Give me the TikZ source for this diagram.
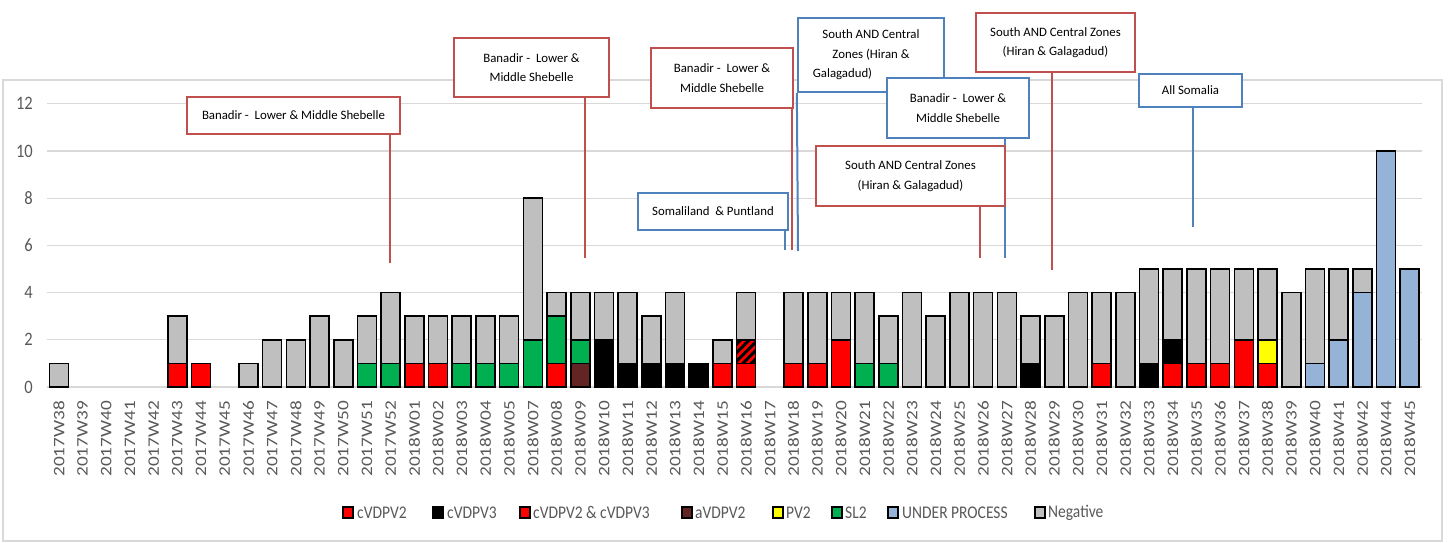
\documentclass[tikz,border=0pt]{standalone}
\usepackage{fontspec}
\setmainfont{Carlito}
\usepackage{graphicx}
\definecolor{cvtwo}{HTML}{FF0000}
\definecolor{cvthree}{HTML}{000000}
\definecolor{avtwo}{HTML}{632523}
\definecolor{pvtwo}{HTML}{FFFF00}
\definecolor{sltwo}{HTML}{00B050}
\definecolor{under}{HTML}{95B3D7}
\definecolor{neg}{HTML}{BFBFBF}
\definecolor{gridc}{HTML}{D9D9D9}
\definecolor{labc}{HTML}{595959}
\definecolor{annred}{HTML}{C0504D}
\definecolor{annblue}{HTML}{4F81BD}
\newcommand\barseg[4]{\filldraw[barline,fill=#4] ({58.85+23.7*#1-9.5},{387-23.6*#2}) rectangle ({58.85+23.7*#1+9.5},{387-23.6*#3});}
\begin{document}
\begin{tikzpicture}[x=1pt,y=-1pt,
  barline/.style={draw=black,line width=1.6pt},
  gridl/.style={draw=gridc,line width=1.3pt},
  ylab/.style={anchor=east,inner sep=0pt,text=labc,font=\fontsize{16.5}{18}\selectfont},
  xlab/.style={anchor=east,rotate=90,inner sep=0pt,text=labc,font=\fontsize{16}{18}\selectfont},
  annbox/.style={fill=white,line width=2.3pt,align=center,inner sep=1pt,text=black,font=\fontsize{12.8}{19.5}\selectfont},
  redbox/.style={annbox,draw=annred},
  bluebox/.style={annbox,draw=annblue},
  redline/.style={draw=annred,line width=2pt},
  blueline/.style={draw=annblue,line width=2pt},
  legsq/.style={draw=black,line width=1.4pt,minimum width=10pt,minimum height=11pt,inner sep=0pt},
  legtext/.style={anchor=west,inner sep=0pt,text=labc,font=\fontsize{15.5}{17}\selectfont}]
\useasboundingbox (0,0) rectangle (1448,543);
\fill[white] (0,0) rectangle (1448,543);
% chart frame
\draw[draw=gridc,line width=1.2pt] (3,80) rectangle (1442,541);
% grid
\foreach \v in {0,2,...,12} {
  \draw[gridl] (47,{387-23.6*\v}) -- (1422,{387-23.6*\v});
  \node[ylab] (y\v) at (33,{387-23.6*\v}) {\scalebox{1}[1.15]{\v}};
}
% bars
\foreach \i/\a/\b/\c in {
 0/0/1/neg, 5/0/1/cvtwo, 5/1/3/neg, 6/0/1/cvtwo, 8/0/1/neg, 9/0/2/neg, 10/0/2/neg,
 11/0/3/neg, 12/0/2/neg, 13/0/1/sltwo, 13/1/3/neg, 14/0/1/sltwo, 14/1/4/neg,
 15/0/1/cvtwo, 15/1/3/neg, 16/0/1/cvtwo, 16/1/3/neg, 17/0/1/sltwo, 17/1/3/neg,
 18/0/1/sltwo, 18/1/3/neg, 19/0/1/sltwo, 19/1/3/neg, 20/0/2/sltwo, 20/2/8/neg,
 21/0/1/cvtwo, 21/1/3/sltwo, 21/3/4/neg, 22/0/1/avtwo, 22/1/2/sltwo, 22/2/4/neg,
 23/0/2/cvthree, 23/2/4/neg, 24/0/1/cvthree, 24/1/4/neg, 25/0/1/cvthree, 25/1/3/neg,
 26/0/1/cvthree, 26/1/4/neg, 27/0/1/cvthree, 28/0/1/cvtwo, 28/1/2/neg,
 29/0/1/cvtwo, 29/2/4/neg,
 31/0/1/cvtwo, 31/1/4/neg, 32/0/1/cvtwo, 32/1/4/neg, 33/0/2/cvtwo, 33/2/4/neg,
 34/0/1/sltwo, 34/1/4/neg, 35/0/1/sltwo, 35/1/3/neg, 36/0/4/neg, 37/0/3/neg,
 38/0/4/neg, 39/0/4/neg, 40/0/4/neg, 41/0/1/cvthree, 41/1/3/neg, 42/0/3/neg,
 43/0/4/neg, 44/0/1/cvtwo, 44/1/4/neg, 45/0/4/neg, 46/0/1/cvthree, 46/1/5/neg,
 47/0/1/cvtwo, 47/1/2/cvthree, 47/2/5/neg, 48/0/1/cvtwo, 48/1/5/neg,
 49/0/1/cvtwo, 49/1/5/neg, 50/0/2/cvtwo, 50/2/5/neg, 51/0/1/cvtwo, 51/1/2/pvtwo,
 51/2/5/neg, 52/0/4/neg, 53/0/1/under, 53/1/5/neg, 54/0/2/under, 54/2/5/neg,
 55/0/4/under, 55/4/5/neg, 56/0/10/under, 57/0/5/under}
 {\barseg{\i}{\a}{\b}{\c}}
% hatched segment (cVDPV2 & cVDPV3) on 2018W16
\begin{scope}
  \clip (736.65,363.4) rectangle (755.65,339.8);
  \fill[cvtwo] (736.65,363.4) rectangle (755.65,339.8);
  \foreach \k in {-3,...,3}
    \draw[black,line width=3pt] ({746.15+\k*8.5-15},{351.6+15}) -- ({746.15+\k*8.5+15},{351.6-15});
\end{scope}
\draw[barline] (736.65,363.4) rectangle (755.65,339.8);
% x labels
\foreach \t [count=\n from 0] in {2017W38,2017W39,2017W40,2017W41,2017W42,2017W43,2017W44,2017W45,2017W46,2017W47,2017W48,2017W49,2017W50,2017W51,2017W52,2018W01,2018W02,2018W03,2018W04,2018W05,2018W07,2018W08,2018W09,2018W10,2018W11,2018W12,2018W13,2018W14,2018W15,2018W16,2018W17,2018W18,2018W19,2018W20,2018W21,2018W22,2018W23,2018W24,2018W25,2018W26,2018W27,2018W28,2018W29,2018W30,2018W31,2018W32,2018W33,2018W34,2018W35,2018W36,2018W37,2018W38,2018W39,2018W40,2018W41,2018W42,2018W44,2018W45}
  \node[xlab] (x\n) at ({58.85+23.7*\n},401) {\scalebox{1.2}[1]{\t}};
% annotation connector end points
\coordinate (e1) at (390,263);
\coordinate (e2) at (585,258);
\coordinate (e3) at (792,250);
\coordinate (e4) at (785,250);
\coordinate (e5) at (798,251);
\coordinate (e6) at (1005,258);
\coordinate (e7) at (980,258);
\coordinate (e8) at (1052,270);
\coordinate (e9) at (1193,227);
% invisible placement of annotation boxes, used by the connectors
\path (293.5,115.5) node[redbox,draw=none,fill=none,text opacity=0,minimum width=213pt,minimum height=37pt] (b1) {};
\path (531.5,67.5) node[redbox,draw=none,fill=none,minimum width=155pt,minimum height=59pt] (b2) {};
\path (722,78) node[redbox,draw=none,fill=none,minimum width=142pt,minimum height=60pt] (b3) {};
\path (713,211.5) node[bluebox,draw=none,fill=none,minimum width=150pt,minimum height=37pt] (b4) {};
\path (871,55) node[bluebox,draw=none,fill=none,minimum width=146pt,minimum height=74pt] (b5) {};
\path (958,108) node[bluebox,draw=none,fill=none,minimum width=142pt,minimum height=60pt] (b6) {};
\path (910.5,176) node[redbox,draw=none,fill=none,minimum width=189pt,minimum height=60pt] (b7) {};
\path (1055.5,42.5) node[redbox,draw=none,fill=none,minimum width=159pt,minimum height=59pt] (b8) {};
\path (1190.5,90.5) node[bluebox,draw=none,fill=none,minimum width=103pt,minimum height=33pt] (b9) {};
% connectors
\draw[redline] (b1.south -| e1) -- (e1);
\draw[redline] (b2.south -| e2) -- (e2);
\draw[redline] (b3.south -| e3) -- (e3);
\draw[blueline] (b4.south -| e4) -- (e4);
\draw[blueline] (b5.south west) -- (e5);
\draw[blueline] (b6.south -| e6) -- (e6);
\draw[redline] (b7.south -| e7) -- (e7);
\draw[redline] (b8.south -| e8) -- (e8);
\draw[blueline] (b9.south -| e9) -- (e9);
% annotation boxes on top, in stacking order
\path (293.5,115.5) node[redbox,minimum width=213pt,minimum height=37pt] (c1) {Banadir -\ \ Lower \& Middle Shebelle};
\path (531.5,67.5) node[redbox,minimum width=155pt,minimum height=59pt] (c2) {Banadir -\ \ Lower \&\\Middle Shebelle};
\path (722,78) node[redbox,minimum width=142pt,minimum height=60pt] (c3) {Banadir -\ \ Lower \&\\Middle Shebelle};
\path (713,211.5) node[bluebox,minimum width=150pt,minimum height=37pt] (c4) {Somaliland\ \ \& Puntland};
\path (871,55) node[bluebox,minimum width=146pt,minimum height=74pt] (c5) {South AND Central\\Zones (Hiran \&\\Galagadud)\hspace*{57pt}};
\path (958,108) node[bluebox,minimum width=142pt,minimum height=60pt] (c6) {Banadir -\ \ Lower \&\\Middle Shebelle};
\path (910.5,176) node[redbox,minimum width=189pt,minimum height=60pt] (c7) {South AND Central Zones\\(Hiran \& Galagadud)};
\path (1055.5,42.5) node[redbox,minimum width=159pt,minimum height=59pt] (c8) {South AND Central Zones\\(Hiran \& Galagadud)};
\path (1190.5,90.5) node[bluebox,minimum width=103pt,minimum height=33pt] (c9) {All Somalia};
% legend
\node[legsq,fill=cvtwo] (l1) at (348,512.5) {};
\node[legtext] (t1) at (357,512.5) {\scalebox{1}[1.15]{cVDPV2}};
\node[legsq,fill=cvthree] (l2) at (438,512.5) {};
\node[legtext] (t2) at (447,512.5) {\scalebox{1}[1.15]{cVDPV3}};
\begin{scope}
  \clip (520,507) rectangle (530,518);
  \fill[cvtwo] (520,507) rectangle (530,518);
  \draw[black,line width=3pt] (513,520) -- (521,505);
  \draw[black,line width=3pt] (529,520) -- (537,505);
\end{scope}
\node[legsq] (l3) at (525,512.5) {};
\node[legtext] (t3) at (533,512.5) {\scalebox{1}[1.15]{cVDPV2 \& cVDPV3}};
\node[legsq,fill=avtwo] (l4) at (687,512.5) {};
\node[legtext] (t4) at (695,512.5) {\scalebox{1}[1.15]{aVDPV2}};
\node[legsq,fill=pvtwo] (l5) at (778,512.5) {};
\node[legtext] (t5) at (786,512.5) {\scalebox{1}[1.15]{PV2}};
\node[legsq,fill=sltwo] (l6) at (837,512.5) {};
\node[legtext] (t6) at (845,512.5) {\scalebox{1}[1.15]{SL2}};
\node[legsq,fill=under] (l7) at (893,512.5) {};
\node[legtext] (t7) at (902,512.5) {\scalebox{1}[1.15]{UNDER PROCESS}};
\node[legsq,fill=neg] (l8) at (1040,512.5) {};
\node[legtext] (t8) at (1048,512.5) {\scalebox{1}[1.15]{Negative}};
\end{tikzpicture}
\end{document}
